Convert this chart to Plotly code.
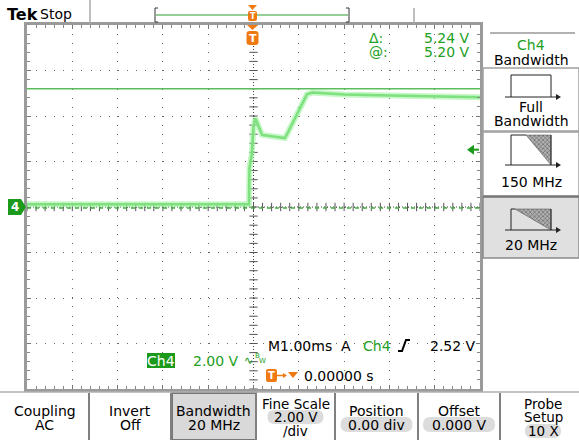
import plotly.graph_objects as go
import numpy as np

W, H = 579, 440
FONT = "DejaVu Sans"
GREEN_TXT = "#22a022"
GREEN_BOX = "#1c9a1c"
ORANGE = "#f07a12"
FS = 14

time_ms = [-5.0, -0.10, -0.09, -0.07, -0.04, 0.0, 0.04, 0.19, 0.69, 0.74,
           1.18, 1.30, 1.60, 2.0, 3.0, 4.0, 5.0]
ch4_v = [0.12, 0.12, 1.70, 2.00, 2.30, 3.50, 3.90, 3.17, 3.03, 3.20,
         4.95, 5.03, 4.98, 4.94, 4.90, 4.86, 4.82]
cursor_a_v = 5.20
cursor_b_v = -0.04
trigger_level_v = 2.52
volts_per_div = 2.0
ms_per_div = 1.0

top_labels = ["Tek", "Stop"]
cursor_labels = [("\u0394:", "5.24 V"), ("@:", "5.20 V")]
side_title = ["Ch4", "Bandwidth"]
side_buttons = ["Full", "Bandwidth", "150 MHz", "20 MHz"]
bottom_buttons = [
    ("Coupling", "AC", None),
    ("Invert", "Off", None),
    ("Bandwidth", "20 MHz", None),
    ("Fine Scale", "2.00 V", "/div"),
    ("Position", "0.00 div", None),
    ("Offset", "0.000 V", None),
    ("Probe", "Setup", "10 X"),
]

# ---------------- geometry ----------------
GX0, GX1, GY0, GY1 = 27, 480, 25, 389

fig = go.Figure()

# center graticule tick marks
xt = np.arange(-5, 5.001, 0.2 * ms_per_div)
yt = np.arange(-4, 4.001, 0.2) * volts_per_div
fig.add_trace(go.Scatter(x=xt, y=np.zeros_like(xt), mode="markers", hoverinfo="skip",
                         marker=dict(symbol="line-ns", size=6, line=dict(color="#555", width=1))))
fig.add_trace(go.Scatter(x=np.zeros_like(yt), y=yt, mode="markers", hoverinfo="skip",
                         marker=dict(symbol="line-ew", size=6, line=dict(color="#555", width=1))))

# trace (noise band + core)
fig.add_trace(go.Scatter(x=time_ms, y=ch4_v, mode="lines", hoverinfo="skip",
                         line=dict(color="rgba(160,242,160,0.6)", width=6)))
fig.add_trace(go.Scatter(x=time_ms, y=ch4_v, mode="lines", hoverinfo="skip",
                         line=dict(color="#7ee07e", width=2.5)))

shapes = []
# center cross lines (dotted)
shapes.append(dict(type="line", xref="x", yref="y", x0=0, x1=0, y0=-8, y1=8,
                   line=dict(color="#444", width=1, dash="1px,2px"), layer="below"))
shapes.append(dict(type="line", xref="x", yref="y", x0=-5, x1=5, y0=0, y1=0,
                   line=dict(color="#444", width=1, dash="1px,2px"), layer="below"))
# cursors
shapes.append(dict(type="line", xref="x", yref="y", x0=-5, x1=5, y0=cursor_a_v, y1=cursor_a_v,
                   line=dict(color="#5cbd5c", width=1.5)))
shapes.append(dict(type="line", xref="x", yref="y", x0=-5, x1=5, y0=cursor_b_v, y1=cursor_b_v,
                   line=dict(color="#3fae3f", width=1.5, dash="4px,4px")))


def P(*pts, close=True):
    s = "M " + " L ".join(f"{x} {y}" for x, y in pts)
    return s + (" Z" if close else "")


def rrect(x0, y0, x1, y1, r):
    return (f"M {x0+r} {y0} L {x1-r} {y0} Q {x1} {y0} {x1} {y0+r} L {x1} {y1-r} "
            f"Q {x1} {y1} {x1-r} {y1} L {x0+r} {y1} Q {x0} {y1} {x0} {y1-r} "
            f"L {x0} {y0+r} Q {x0} {y0} {x0+r} {y0} Z")


def pshape(path, fill=None, color=None, width=1, layer="above"):
    d = dict(type="path", xref="x2", yref="y2", path=path, layer=layer,
             line=dict(color=color if color else "rgba(0,0,0,0)", width=width if color else 0))
    if fill:
        d["fillcolor"] = fill
    return d


def line(x0, y0, x1, y1, color="#999", width=1.5, dash=None):
    d = dict(type="line", xref="x2", yref="y2", x0=x0, y0=y0, x1=x1, y1=y1,
             line=dict(color=color, width=width))
    if dash:
        d["line"]["dash"] = dash
    return d


annots = []


def txt(x, y, s, color="black", size=FS, anchor="center", bold=False, family=FONT):
    annots.append(dict(x=x, y=y, xref="x2", yref="y2", text=("<b>%s</b>" % s) if bold else s,
                       showarrow=False, xanchor=anchor, yanchor="middle", borderpad=0,
                       font=dict(family=family, size=size, color=color)))


# ---------------- top bar ----------------
txt(6, 14, top_labels[0], size=16, anchor="left", bold=True)
txt(39, 14, top_labels[1], size=14, anchor="left")
shapes.append(line(90, 0, 90, 24, "#aaa", 1.5))
shapes.append(line(414, 8, 414, 24, "#aaa", 1.5))
# record bar brackets
shapes.append(pshape(P((158, 8), (155, 8), (155, 22), (158, 22), close=False), color="#333", width=1))
shapes.append(pshape(P((346, 8), (349, 8), (349, 22), (346, 22), close=False), color="#333", width=1))
shapes.append(line(156, 15, 348, 15, "#2a9d2a", 1))
# trigger position marker on record bar
shapes.append(pshape(P((248, 5), (257, 5), (252.5, 10)), fill=ORANGE))
shapes.append(pshape(rrect(248, 11, 257, 21, 2), fill=ORANGE))
txt(252.5, 16, "T", color="white", size=8, bold=True)
# trigger marker on graticule
shapes.append(pshape(P((247, 25), (258, 25), (252.5, 30)), fill=ORANGE))
shapes.append(pshape(rrect(246.5, 31, 258.5, 45, 3), fill=ORANGE))
txt(252.5, 38, "T", color="white", size=11, bold=True)

# cursor readouts
for i, (lab, val) in enumerate(cursor_labels):
    y = 38 + i * 14
    txt(368, y, lab, color=GREEN_TXT, anchor="left")
    txt(471, y, val, color=GREEN_TXT, anchor="right")

# ground marker "4"
shapes.append(pshape(P((8, 199), (21, 199), (26, 207), (21, 215), (8, 215)), fill=GREEN_BOX))
txt(14.5, 207, "4", color="white", size=12, bold=True)
# trigger level arrow (right)
ty = 207 - trigger_level_v / volts_per_div * ((GY1 - GY0) / 8)
shapes.append(pshape(P((467, ty), (474, ty - 5), (474, ty + 5)), fill=GREEN_BOX))
shapes.append(line(473, ty, 479, ty, GREEN_BOX, 2))

# ---------------- right side menu ----------------
shapes.append(line(490, 33, 575, 33, "#999", 1.5))
txt(531, 45, side_title[0], color=GREEN_TXT)
txt(531, 60, side_title[1])
# buttons (below traces so the hatched triangles show)
shapes.append(pshape(P((483, 68), (579, 68), (579, 131), (483, 131)), fill="white", color="#a0a0a0", width=1.5, layer="below"))
shapes.append(pshape(P((483, 132), (579, 132), (579, 196), (483, 196)), fill="white", color="#a0a0a0", width=1.5, layer="below"))
shapes.append(pshape(P((483, 197), (579, 197), (579, 258), (483, 258)), fill="#e0e0e0", color="#8a8a8a", width=1.5, layer="below"))
shapes.append(line(483, 196.5, 579, 196.5, "#777", 2))

# icon: full bandwidth
shapes.append(pshape(P((511, 97), (511, 75), (551, 75), (551, 97), close=False), color="#222", width=1))
for yb in (97, 165, 230):
    shapes.append(line(505, yb, 557, yb, "#222", 1))
    shapes.append(pshape(P((556, yb - 3), (561, yb), (556, yb + 3)), fill="#222"))
txt(531, 107, side_buttons[0])
txt(531, 120.5, side_buttons[1])
# icon: 150 MHz
shapes.append(pshape(P((511, 165), (511, 135), (526, 135), close=False), color="#222", width=1))
shapes.append(line(551, 135, 551, 165, "#222", 1))
txt(531, 182, side_buttons[2])
# icon: 20 MHz
shapes.append(pshape(P((511, 230), (511, 209), (515, 209), close=False), color="#222", width=1))
shapes.append(line(551, 209, 551, 230, "#222", 1))
txt(531, 245, side_buttons[3])

# hatched triangles (pixel-space scatter)
for xs, ys in (([526, 551, 551, 526], [135, 135, 165, 135]),
               ([515, 551, 551, 515], [209, 209, 230, 209])):
    fig.add_trace(go.Scatter(x=xs, y=ys, xaxis="x2", yaxis="y2",
                             mode="lines", fill="toself", line=dict(width=0.5, color="#444"),
                             fillcolor="#777",
                             fillpattern=dict(shape="x", fgcolor="#222", bgcolor="#b0b0b0", size=3, solidity=0.4),
                             hoverinfo="skip"))

# ---------------- bottom readouts ----------------
txt(267, 346, "M1.00ms", anchor="left")
txt(340, 346, "A", anchor="left")
txt(362, 346, "Ch4", color=GREEN_TXT, anchor="left")
shapes.append(pshape(P((398, 351), (402, 351), (406, 340), (410, 340), close=False), color="black", width=2))
txt(477, 346, "2.52 V", anchor="right")

shapes.append(pshape(P((147, 353), (175, 353), (175, 368), (147, 368)), fill=GREEN_BOX))
txt(161, 360.5, "Ch4", color="white")
txt(192, 360.5, "2.00 V", color=GREEN_TXT, anchor="left")
txt(243, 360, "\u223f", color=GREEN_TXT, size=11, anchor="left")
txt(254, 356, "B", color=GREEN_TXT, size=7, anchor="left")
txt(258, 361, "W", color=GREEN_TXT, size=7, anchor="left")

shapes.append(pshape(rrect(266, 369, 277, 382, 2), fill=ORANGE))
txt(271.5, 375.5, "T", color="white", size=10, bold=True)
shapes.append(line(277, 375.5, 285, 375.5, ORANGE, 1.5))
shapes.append(pshape(P((283, 373), (287, 375.5), (283, 378)), fill=ORANGE))
shapes.append(pshape(P((288, 372), (298, 372), (293, 378)), fill=ORANGE))
txt(303, 376, "0.00000 s", anchor="left")

# ---------------- bottom menu ----------------
shapes.append(line(0, 392, 579, 392, "#b0b0b0", 1.5))
seps = [89, 171, 256, 335, 418, 500]
shapes.append(pshape(P((172, 393), (256, 393), (256, 440), (172, 440)), fill="#d9d9d9", color="#777", width=2, layer="below"))
for sx in seps:
    shapes.append(line(sx, 393, sx, 440, "#808080", 2))
bounds = [0] + seps + [579]
for i, (a, b, c) in enumerate(bottom_buttons):
    cx = (bounds[i] + bounds[i + 1]) / 2
    if i == 6:
        cx = 543
    if c is None:
        txt(cx, 410.5, a)
        if i in (4, 5):
            shapes.append(pshape(rrect(cx - 36, 417, cx + 36, 432, 7.5), fill="#dcdcdc", layer="below"))
        txt(cx, 424.5, b)
    else:
        txt(cx, 403.5, a, size=13.5)
        if i == 3:
            shapes.append(pshape(rrect(cx - 28, 410, cx + 28, 424, 7), fill="#dcdcdc", layer="below"))
        txt(cx, 417, b, size=13.5)
        if i == 6:
            shapes.append(pshape(rrect(cx - 18, 424, cx + 18, 438, 7), fill="#dcdcdc", layer="below"))
        txt(cx, 430.5, c, size=13.5)

fig.update_layout(
    width=W, height=H, margin=dict(l=0, r=0, t=0, b=0),
    paper_bgcolor="white", plot_bgcolor="rgba(0,0,0,0)", showlegend=False,
    xaxis=dict(domain=[GX0 / W, GX1 / W], range=[-5 * ms_per_div, 5 * ms_per_div], dtick=ms_per_div,
               showgrid=True, gridcolor="#666", griddash="1px,8.08px", gridwidth=1,
               zeroline=False, showline=True, linecolor="#9a9a9a", linewidth=2.5, mirror="allticks",
               ticks="inside", ticklen=4, tickcolor="#777", tickwidth=1,
               minor=dict(dtick=0.2 * ms_per_div, ticks="inside", ticklen=3, tickcolor="#888", showgrid=False),
               showticklabels=False, fixedrange=True, anchor="y"),
    yaxis=dict(domain=[1 - GY1 / H, 1 - GY0 / H], range=[-4 * volts_per_div, 4 * volts_per_div],
               dtick=volts_per_div,
               showgrid=True, gridcolor="#666", griddash="1px,8.08px", gridwidth=1,
               zeroline=False, showline=True, linecolor="#9a9a9a", linewidth=2.5, mirror="allticks",
               ticks="inside", ticklen=4, tickcolor="#777", tickwidth=1,
               minor=dict(dtick=0.2 * volts_per_div, ticks="inside", ticklen=3, tickcolor="#888", showgrid=False),
               showticklabels=False, fixedrange=True, anchor="x"),
    xaxis2=dict(domain=[0, 1], range=[0, W], visible=False, fixedrange=True, anchor="y2"),
    yaxis2=dict(domain=[0, 1], range=[H, 0], visible=False, fixedrange=True, anchor="x2"),
    shapes=shapes, annotations=annots,
)

fig.write_html("out.html", config={"displayModeBar": False},
               post_script="document.body.style.margin='0px';document.body.style.overflow='hidden';")
